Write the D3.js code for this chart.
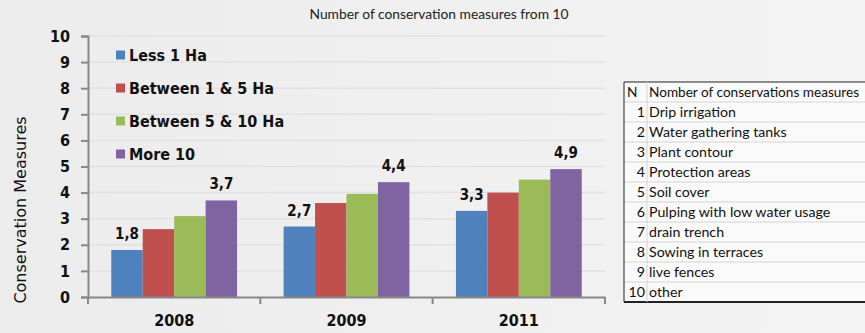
<!DOCTYPE html>
<meta charset="utf-8">
<head>
  <title>Conservation measures</title>
</head>
<style>
  body { margin: 0; background: #efefef; }
  svg { display: block; }
</style>
<body>
<div id="chart"></div>
<script src="https://d3js.org/d3.v7.min.js"></script>
<script>

// data
var years = ["2008", "2009", "2011"];
var seriesNames = ["Less 1 Ha", "Between 1 & 5 Ha", "Between 5 & 10 Ha", "More 10"];
var less1 = [1.8, 2.7, 3.3];
var between1and5 = [2.6, 3.6, 4.0];
var between5and10 = [3.1, 3.95, 4.5];
var more10 = [3.7, 4.4, 4.9];
var yTicks = [0, 1, 2, 3, 4, 5, 6, 7, 8, 9, 10];
var measureNumbers = [1, 2, 3, 4, 5, 6, 7, 8, 9, 10];
var measureNames = ["Drip irrigation", "Water gathering tanks", "Plant contour", "Protection areas",
  "Soil cover", "Pulping with low water usage", "drain trench", "Sowing in terraces", "live fences", "other"];

var colors = ["#4f81bd", "#c0504d", "#9bbb59", "#8064a2"];
var labelled = [0, 3]; // only first and last series carry value labels

var W = 865, H = 333;
var margin = {top: 36, right: 260, bottom: 36, left: 88},
    width = 605 - margin.left,
    height = 297 - margin.top;

var svg = d3.select("#chart").append("svg")
  .attr("width", W).attr("height", H);

// soft background
var defs = svg.append("defs");
var grad = defs.append("linearGradient").attr("id", "bg").attr("x1", 0).attr("x2", 1).attr("y1", 0).attr("y2", 0);
grad.append("stop").attr("offset", "0%").attr("stop-color", "#ececec");
grad.append("stop").attr("offset", "100%").attr("stop-color", "#f3f3f3");
svg.append("rect").attr("width", W).attr("height", H).attr("fill", "url(#bg)");

svg.append("text")
  .attr("x", 439).attr("y", 19)
  .attr("text-anchor", "middle")
  .style("font-family", "Lato, 'Open Sans', sans-serif")
  .style("font-size", "13.8px")
  .attr("fill", "#222")
  .text("Number of conservation measures from 10");

var g = svg.append("g").attr("transform", "translate(" + margin.left + "," + margin.top + ")");

var x0 = d3.scaleBand().domain(years).range([0, width]).paddingInner(0.27).paddingOuter(0.135);
var x1 = d3.scaleBand().domain(d3.range(seriesNames.length)).range([0, x0.bandwidth()]);
var y = d3.scaleLinear().domain([0, 10]).range([height, 0]);

// gridlines
g.append("g").selectAll("line").data(yTicks.slice(1)).enter().append("line")
  .attr("x1", 0).attr("x2", width)
  .attr("y1", function(d) { return y(d); }).attr("y2", function(d) { return y(d); })
  .attr("stroke", "#e2e2e2").attr("stroke-width", 1.5);

var seriesData = [less1, between1and5, between5and10, more10];
var rows = seriesData.map(function(vals, s) {
  return years.map(function(yr, i) { return {year: yr, s: s, v: vals[i]}; });
});

var barG = g.append("g").selectAll("g").data(rows).enter().append("g")
  .attr("fill", function(d, s) { return colors[s]; });
barG.selectAll("rect").data(function(d) { return d; }).enter().append("rect")
  .attr("x", function(d) { return x0(d.year) + x1(d.s); })
  .attr("y", function(d) { return y(d.v); })
  .attr("width", x1.bandwidth())
  .attr("height", function(d) { return height - y(d.v); });

var labelData = [];
labelled.forEach(function(s) { labelData = labelData.concat(rows[s]); });
g.append("g").selectAll("text").data(labelData).enter().append("text")
  .attr("x", function(d) { return x0(d.year) + x1(d.s) + x1.bandwidth() / 2; })
  .attr("y", function(d) { return y(d.v) - 11; })
  .attr("text-anchor", "middle")
  .style("font-family", "'DejaVu Sans Condensed', 'DejaVu Sans', sans-serif")
  .style("font-weight", "bold")
  .style("font-size", "15px")
  .attr("fill", "#111")
  .text(function(d) { return String(d.v).replace(".", ","); });

// axes
var yAxis = g.append("g")
  .call(d3.axisLeft(y).tickValues(yTicks).tickSize(7).tickSizeOuter(7).tickPadding(11));
var xAxis = g.append("g").attr("transform", "translate(0," + height + ")")
  .call(d3.axisBottom(x0).tickSize(0).tickSizeOuter(0).tickPadding(18));
// category separators below x axis
g.append("g").selectAll("line")
  .data(years.map(function(yr) { return x0(yr) - x0.step() * x0.paddingInner() / 2; }).concat([width]))
  .enter().append("line")
  .attr("x1", function(d) { return d; }).attr("x2", function(d) { return d; })
  .attr("y1", height).attr("y2", height + 7)
  .attr("stroke", "#888").attr("stroke-width", 2);

[yAxis, xAxis].forEach(function(ax) {
  ax.selectAll("path, line").attr("stroke", "#888").attr("stroke-width", 2);
  ax.selectAll("text")
    .style("font-family", "'DejaVu Sans Condensed', 'DejaVu Sans', sans-serif")
    .style("font-weight", "bold")
    .style("font-size", "16px")
    .attr("fill", "#111");
});

svg.append("text")
  .attr("transform", "translate(26,210) rotate(-90)")
  .attr("text-anchor", "middle")
  .style("font-family", "'DejaVu Sans', sans-serif")
  .style("font-size", "16px")
  .attr("fill", "#111")
  .text("Conservation Measures");

// legend
var legend = svg.append("g").selectAll("g").data(seriesNames).enter().append("g")
  .attr("transform", function(d, i) { return "translate(116," + (55 + i * 33) + ")"; });
legend.append("rect").attr("x", 0).attr("y", -4.5).attr("width", 9).attr("height", 9)
  .attr("fill", function(d, i) { return colors[i]; });
legend.append("text").attr("x", 13).attr("y", 6)
  .style("font-family", "'DejaVu Sans Condensed', 'DejaVu Sans', sans-serif")
  .style("font-weight", "bold")
  .style("font-size", "16px")
  .attr("fill", "#111")
  .text(function(d) { return d; });

// table of measures
var tx = 624, ty = 82, rowH = 20;
var tbl = svg.append("g");
tbl.append("rect").attr("x", tx).attr("y", ty).attr("width", W - tx).attr("height", rowH * 11)
  .attr("fill", "#fafafa");
var tableRows = [{n: "N", name: "Nomber of conservations measures"}].concat(
  measureNumbers.map(function(n, i) { return {n: n, name: measureNames[i]}; }));
tbl.selectAll("line.sep").data(d3.range(1, 11)).enter().append("line")
  .attr("x1", tx).attr("x2", W)
  .attr("y1", function(d) { return ty + d * rowH; }).attr("y2", function(d) { return ty + d * rowH; })
  .attr("stroke", "#d4d4d4");
tbl.append("line").attr("x1", tx).attr("x2", W).attr("y1", ty).attr("y2", ty).attr("stroke", "#222").attr("stroke-width", 1.2);
tbl.append("line").attr("x1", tx).attr("x2", W).attr("y1", ty + rowH * 11).attr("y2", ty + rowH * 11).attr("stroke", "#222").attr("stroke-width", 2);
tbl.append("line").attr("x1", tx).attr("x2", tx).attr("y1", ty).attr("y2", ty + rowH * 11).attr("stroke", "#222");
tbl.append("line").attr("x1", 647).attr("x2", 647).attr("y1", ty).attr("y2", ty + rowH * 11).attr("stroke", "#d4d4d4");
var tr = tbl.selectAll("g.row").data(tableRows).enter().append("g")
  .attr("transform", function(d, i) { return "translate(0," + (ty + i * rowH + 15) + ")"; })
  .style("font-family", "Lato, 'Open Sans', sans-serif")
  .style("font-size", function(d, i) { return i === 0 ? "13.6px" : "14.2px"; })
  .attr("fill", "#111");
tr.append("text")
  .attr("x", function(d, i) { return i === 0 ? 627 : 645; })
  .attr("text-anchor", function(d, i) { return i === 0 ? "start" : "end"; })
  .text(function(d) { return d.n; });
tr.append("text").attr("x", 649).text(function(d) { return d.name; });

</script>
</body>
</html>
